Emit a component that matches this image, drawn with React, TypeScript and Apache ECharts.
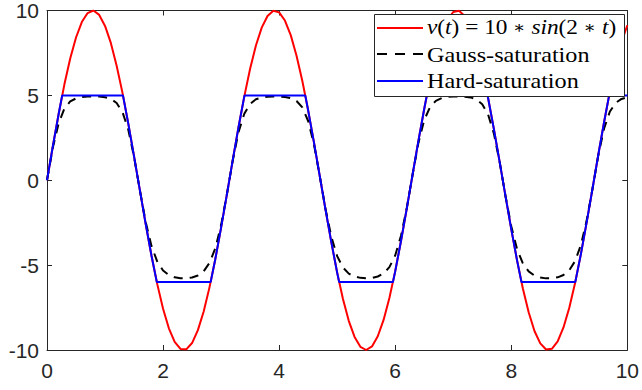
import React, { useEffect, useRef } from "react";
import * as echarts from "echarts";

// sample times (s)
const tGrid = [
  0, 0.1, 0.2, 0.3, 0.4, 0.5, 0.6, 0.7, 0.8, 0.9,
  1, 1.1, 1.2, 1.3, 1.4, 1.5, 1.6, 1.7, 1.8, 1.9,
  2, 2.1, 2.2, 2.3, 2.4, 2.5, 2.6, 2.7, 2.8, 2.9,
  3, 3.1, 3.2, 3.3, 3.4, 3.5, 3.6, 3.7, 3.8, 3.9,
  4, 4.1, 4.2, 4.3, 4.4, 4.5, 4.6, 4.7, 4.8, 4.9,
  5, 5.1, 5.2, 5.3, 5.4, 5.5, 5.6, 5.7, 5.8, 5.9,
  6, 6.1, 6.2, 6.3, 6.4, 6.5, 6.6, 6.7, 6.8, 6.9,
  7, 7.1, 7.2, 7.3, 7.4, 7.5, 7.6, 7.7, 7.8, 7.9,
  8, 8.1, 8.2, 8.3, 8.4, 8.5, 8.6, 8.7, 8.8, 8.9,
  9, 9.1, 9.2, 9.3, 9.4, 9.5, 9.6, 9.7, 9.8, 9.9,
  10,
];

// v(t) = 10*sin(2*t), read at the sample times
const vInput = [
  0, 1.99, 3.89, 5.65, 7.17, 8.41, 9.32, 9.85, 10.0, 9.74,
  9.09, 8.09, 6.75, 5.16, 3.35, 1.41, -0.58, -2.56, -4.43, -6.12,
  -7.57, -8.72, -9.52, -9.94, -9.96, -9.59, -8.83, -7.73, -6.31, -4.65,
  -2.79, -0.83, 1.17, 3.12, 4.94, 6.57, 7.94, 8.99, 9.68, 9.99,
  9.89, 9.41, 8.55, 7.34, 5.85, 4.12, 2.23, 0.25, -1.74, -3.66,
  -5.44, -7.0, -8.28, -9.23, -9.81, -10.0, -9.79, -9.19, -8.23, -6.94,
  -5.37, -3.58, -1.66, 0.34, 2.32, 4.2, 5.92, 7.4, 8.59, 9.44,
  9.91, 9.98, 9.66, 8.95, 7.88, 6.5, 4.86, 3.03, 1.08, -0.92,
  -2.88, -4.72, -6.38, -7.78, -8.88, -9.61, -9.97, -9.93, -9.49, -8.67,
  -7.51, -6.05, -4.35, -2.47, -0.5, 1.5, 3.43, 5.23, 6.82, 8.14,
  9.13,
];

// Gauss-saturation output
const vGauss = [
  0, 1.91, 3.35, 4.22, 4.64, 4.82, 4.9, 4.93, 4.94, 4.93,
  4.89, 4.79, 4.55, 4.02, 2.99, 1.38, -0.58, -2.44, -3.87, -4.79,
  -5.32, -5.59, -5.72, -5.77, -5.77, -5.73, -5.61, -5.36, -4.87, -4.01,
  -2.64, -0.83, 1.15, 2.83, 3.92, 4.5, 4.77, 4.88, 4.92, 4.94,
  4.93, 4.91, 4.84, 4.67, 4.29, 3.49, 2.12, 0.25, -1.7, -3.33,
  -4.47, -5.14, -5.5, -5.67, -5.75, -5.78, -5.75, -5.67, -5.49, -5.12,
  -4.43, -3.27, -1.63, 0.34, 2.2, 3.54, 4.31, 4.68, 4.84, 4.91,
  4.93, 4.94, 4.92, 4.88, 4.76, 4.48, 3.88, 2.76, 1.07, -0.91,
  -2.71, -4.06, -4.9, -5.37, -5.62, -5.73, -5.78, -5.77, -5.72, -5.58,
  -5.3, -4.76, -3.82, -2.36, -0.5, 1.47, 3.05, 4.05, 4.56, 4.79,
  4.89,
];

// Hard-saturation output (with the clipping corners)
const tHard = [
  0, 0.1, 0.2, 0.2618, 1.309, 1.4, 1.5, 1.6, 1.7, 1.8,
  1.8925, 2.8198, 2.9, 3.0, 3.1, 3.2, 3.3, 3.4, 3.4034, 4.4506,
  4.5, 4.6, 4.7, 4.8, 4.9, 5.0, 5.0341, 5.9614, 6.0, 6.1,
  6.2, 6.3, 6.4, 6.5, 6.545, 7.5922, 7.6, 7.7, 7.8, 7.9,
  8.0, 8.1, 8.1757, 9.103, 9.2, 9.3, 9.4, 9.5, 9.6, 9.6866,
  10,
];
const vHard = [
  0, 1.99, 3.89, 5, 5, 3.35, 1.41, -0.58, -2.56, -4.43,
  -6, -6, -4.65, -2.79, -0.83, 1.17, 3.12, 4.94, 5, 5,
  4.12, 2.23, 0.25, -1.74, -3.66, -5.44, -6, -6, -5.37, -3.58,
  -1.66, 0.34, 2.32, 4.2, 5, 5, 4.86, 3.03, 1.08, -0.92,
  -2.88, -4.72, -6, -6, -4.35, -2.47, -0.5, 1.5, 3.43, 5,
  5,
];

const legendNames = ["Gauss-saturation", "Hard-saturation"];

const AXIS = "#262626";
const LABEL_FONT = "'Liberation Sans', Arial, Helvetica, sans-serif";
const SERIF = "'Liberation Serif', 'Times New Roman', 'DejaVu Serif', serif";

export default function App() {
  const ref = useRef<HTMLDivElement>(null);

  useEffect(() => {
    if (!ref.current) return;
    const chart = echarts.init(ref.current, null, { renderer: "svg" });

    const pairs = (ts: number[], vs: number[]) => ts.map((t, i) => [t, vs[i]]);

    const baseX = {
      type: "value" as const,
      min: 0,
      max: 10,
      interval: 2,
      axisLine: { show: true, onZero: false, lineStyle: { color: AXIS, width: 1 } },
      axisTick: { show: true, inside: true, length: 5, lineStyle: { color: AXIS, width: 1 } },
      splitLine: { show: false },
    };
    const baseY = {
      type: "value" as const,
      min: -10,
      max: 10,
      interval: 5,
      axisLine: { show: true, onZero: false, lineStyle: { color: AXIS, width: 1 } },
      axisTick: { show: true, inside: true, length: 5, lineStyle: { color: AXIS, width: 1 } },
      splitLine: { show: false },
    };

    const option = {
      animation: false,
      backgroundColor: "#ffffff",
      grid: { left: 47, right: 13, top: 9.5, bottom: 40, containLabel: false },
      xAxis: [
        {
          ...baseX,
          position: "bottom",
          axisLabel: { show: true, margin: 10, color: AXIS, fontSize: 21, fontFamily: LABEL_FONT },
        },
        { ...baseX, position: "top", axisLabel: { show: false } },
      ],
      yAxis: [
        {
          ...baseY,
          position: "left",
          axisLabel: { show: true, margin: 8, color: AXIS, fontSize: 21, fontFamily: LABEL_FONT },
        },
        { ...baseY, position: "right", axisLabel: { show: false } },
      ],
      series: [
        {
          name: "v(t) = 10*sin(2*t)",
          type: "line",
          xAxisIndex: 0,
          yAxisIndex: 0,
          data: pairs(tGrid, vInput),
          showSymbol: false,
          symbol: "none",
          lineStyle: { color: "#ff0000", width: 2 },
          z: 2,
        },
        {
          name: legendNames[0],
          type: "line",
          xAxisIndex: 0,
          yAxisIndex: 0,
          data: pairs(tGrid, vGauss),
          showSymbol: false,
          symbol: "none",
          lineStyle: { color: "#000000", width: 2, type: [9, 7] },
          z: 3,
        },
        {
          name: legendNames[1],
          type: "line",
          xAxisIndex: 0,
          yAxisIndex: 0,
          data: pairs(tHard, vHard),
          showSymbol: false,
          symbol: "none",
          lineStyle: { color: "#0000ff", width: 2 },
          z: 4,
        },
      ],
      graphic: [
        {
          type: "rect",
          z: 100,
          shape: { x: 374.5, y: 14.5, width: 250, height: 82 },
          style: { fill: "#ffffff", stroke: AXIS, lineWidth: 1 },
        },
        {
          type: "line",
          z: 101,
          shape: { x1: 377, y1: 28, x2: 423, y2: 28 },
          style: { stroke: "#ff0000", lineWidth: 2 },
        },
        {
          type: "line",
          z: 101,
          shape: { x1: 377, y1: 54, x2: 423, y2: 54 },
          style: { stroke: "#000000", lineWidth: 2, lineDash: [10, 8] },
        },
        {
          type: "line",
          z: 101,
          shape: { x1: 377, y1: 81, x2: 423, y2: 81 },
          style: { stroke: "#0000ff", lineWidth: 2 },
        },
        {
          type: "text",
          z: 101,
          x: 427,
          y: 27,
          scaleX: 1.06,
          style: {
            text:
              "{i|v}{n|(}{i|t}{n|) = 10 }{a|\u2217}{n| }{i|sin}{n|(2 }{a|\u2217}{n| }{i|t}{n|)}",
            fill: "#000",
            fontSize: 22,
            fontFamily: SERIF,
            verticalAlign: "middle",
            align: "left",
            rich: {
              i: { fontStyle: "italic", fontSize: 22, fontFamily: SERIF, fill: "#000" },
              n: { fontStyle: "normal", fontSize: 22, fontFamily: SERIF, fill: "#000" },
              a: { fontStyle: "normal", fontSize: 17, fontFamily: SERIF, fill: "#000" },
            },
          },
        },
        {
          type: "text",
          z: 101,
          x: 427,
          y: 54,
          scaleX: 1.1,
          style: {
            text: legendNames[0],
            fill: "#000",
            fontSize: 22,
            fontFamily: SERIF,
            verticalAlign: "middle",
            align: "left",
          },
        },
        {
          type: "text",
          z: 101,
          x: 427,
          y: 80,
          scaleX: 1.1,
          style: {
            text: legendNames[1],
            fill: "#000",
            fontSize: 22,
            fontFamily: SERIF,
            verticalAlign: "middle",
            align: "left",
          },
        },
      ],
    };

    chart.setOption(option as any);
    return () => chart.dispose();
  }, []);

  return (
    <div
      ref={ref}
      style={{ position: "absolute", left: 0, top: 0, width: 642, height: 390, background: "#fff" }}
    />
  );
}
